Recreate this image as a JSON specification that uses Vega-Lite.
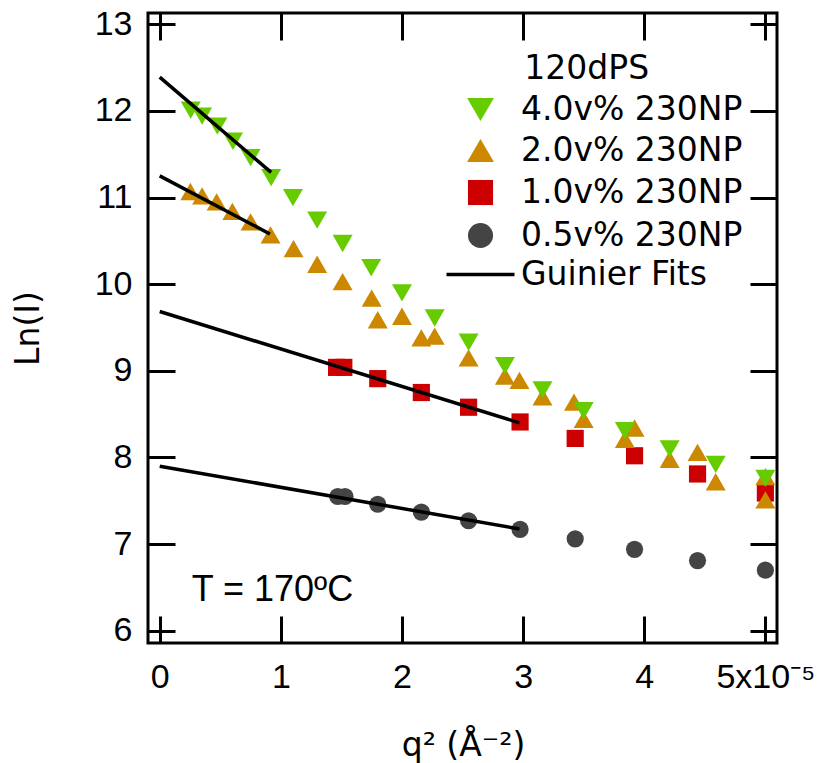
{
  "$schema": "https://vega.github.io/schema/vega-lite/v6.json",
  "width": 629,
  "height": 630,
  "autosize": {"type": "none"},
  "padding": {"left": 148, "top": 13, "right": 43, "bottom": 120},
  "background": "white",
  "config": {
    "view": {"stroke": "black", "strokeWidth": 3},
    "axis": {
      "grid": false, "domain": false, "ticks": true, "tickSize": -27, "tickWidth": 3, "tickColor": "black",
      "labelFont": "Liberation Sans", "labelFontSize": 34, "labelColor": "black",
      "titleFont": "DejaVu Sans", "titleFontSize": 33, "titleFontWeight": "normal", "titleColor": "black",
      "labelFlush": false, "labelOverlap": false, "labelBound": false
    },
    "legend": {
      "padding": 0, "labelFont": "DejaVu Sans", "labelFontSize": 33, "labelColor": "black",
      "rowPadding": 2, "symbolOffset": 0, "labelOffset": 24, "labelLimit": 0
    }
  },
  "datasets": {
    "pts": [
      {"series": "0.5v% 230NP", "q2": 1.47, "lnI": 7.55},
      {"series": "0.5v% 230NP", "q2": 1.53, "lnI": 7.55},
      {"series": "0.5v% 230NP", "q2": 1.80, "lnI": 7.46},
      {"series": "0.5v% 230NP", "q2": 2.16, "lnI": 7.37},
      {"series": "0.5v% 230NP", "q2": 2.55, "lnI": 7.27},
      {"series": "0.5v% 230NP", "q2": 2.975, "lnI": 7.17},
      {"series": "0.5v% 230NP", "q2": 3.43, "lnI": 7.06},
      {"series": "0.5v% 230NP", "q2": 3.92, "lnI": 6.94},
      {"series": "0.5v% 230NP", "q2": 4.44, "lnI": 6.81},
      {"series": "0.5v% 230NP", "q2": 5.0, "lnI": 6.70},
      {"series": "1.0v% 230NP", "q2": 1.46, "lnI": 9.04},
      {"series": "1.0v% 230NP", "q2": 1.52, "lnI": 9.04},
      {"series": "1.0v% 230NP", "q2": 1.80, "lnI": 8.91},
      {"series": "1.0v% 230NP", "q2": 2.16, "lnI": 8.75},
      {"series": "1.0v% 230NP", "q2": 2.55, "lnI": 8.58},
      {"series": "1.0v% 230NP", "q2": 2.975, "lnI": 8.41},
      {"series": "1.0v% 230NP", "q2": 3.43, "lnI": 8.22},
      {"series": "1.0v% 230NP", "q2": 3.92, "lnI": 8.02},
      {"series": "1.0v% 230NP", "q2": 4.44, "lnI": 7.81},
      {"series": "1.0v% 230NP", "q2": 5.0, "lnI": 7.59},
      {"series": "2.0v% 230NP", "q2": 0.253, "lnI": 11.07},
      {"series": "2.0v% 230NP", "q2": 0.35, "lnI": 11.02},
      {"series": "2.0v% 230NP", "q2": 0.47, "lnI": 10.95},
      {"series": "2.0v% 230NP", "q2": 0.60, "lnI": 10.84},
      {"series": "2.0v% 230NP", "q2": 0.75, "lnI": 10.72},
      {"series": "2.0v% 230NP", "q2": 0.915, "lnI": 10.57},
      {"series": "2.0v% 230NP", "q2": 1.105, "lnI": 10.41},
      {"series": "2.0v% 230NP", "q2": 1.30, "lnI": 10.23},
      {"series": "2.0v% 230NP", "q2": 1.51, "lnI": 10.03},
      {"series": "2.0v% 230NP", "q2": 1.75, "lnI": 9.84},
      {"series": "2.0v% 230NP", "q2": 1.80, "lnI": 9.59},
      {"series": "2.0v% 230NP", "q2": 2.0, "lnI": 9.63},
      {"series": "2.0v% 230NP", "q2": 2.16, "lnI": 9.38},
      {"series": "2.0v% 230NP", "q2": 2.27, "lnI": 9.40},
      {"series": "2.0v% 230NP", "q2": 2.55, "lnI": 9.15},
      {"series": "2.0v% 230NP", "q2": 2.85, "lnI": 8.94},
      {"series": "2.0v% 230NP", "q2": 2.97, "lnI": 8.89},
      {"series": "2.0v% 230NP", "q2": 3.16, "lnI": 8.70},
      {"series": "2.0v% 230NP", "q2": 3.42, "lnI": 8.64},
      {"series": "2.0v% 230NP", "q2": 3.50, "lnI": 8.44},
      {"series": "2.0v% 230NP", "q2": 3.84, "lnI": 8.21},
      {"series": "2.0v% 230NP", "q2": 3.92, "lnI": 8.34},
      {"series": "2.0v% 230NP", "q2": 4.21, "lnI": 7.98},
      {"series": "2.0v% 230NP", "q2": 4.44, "lnI": 8.06},
      {"series": "2.0v% 230NP", "q2": 4.59, "lnI": 7.72},
      {"series": "2.0v% 230NP", "q2": 5.0, "lnI": 7.78},
      {"series": "2.0v% 230NP", "q2": 5.0, "lnI": 7.51},
      {"series": "4.0v% 230NP", "q2": 0.256, "lnI": 12.01},
      {"series": "4.0v% 230NP", "q2": 0.35, "lnI": 11.94},
      {"series": "4.0v% 230NP", "q2": 0.476, "lnI": 11.825},
      {"series": "4.0v% 230NP", "q2": 0.605, "lnI": 11.65},
      {"series": "4.0v% 230NP", "q2": 0.75, "lnI": 11.46},
      {"series": "4.0v% 230NP", "q2": 0.92, "lnI": 11.23},
      {"series": "4.0v% 230NP", "q2": 1.10, "lnI": 11.0},
      {"series": "4.0v% 230NP", "q2": 1.30, "lnI": 10.74},
      {"series": "4.0v% 230NP", "q2": 1.51, "lnI": 10.47},
      {"series": "4.0v% 230NP", "q2": 1.746, "lnI": 10.19},
      {"series": "4.0v% 230NP", "q2": 2.0, "lnI": 9.90},
      {"series": "4.0v% 230NP", "q2": 2.27, "lnI": 9.61},
      {"series": "4.0v% 230NP", "q2": 2.55, "lnI": 9.33},
      {"series": "4.0v% 230NP", "q2": 2.85, "lnI": 9.06},
      {"series": "4.0v% 230NP", "q2": 3.16, "lnI": 8.78},
      {"series": "4.0v% 230NP", "q2": 3.50, "lnI": 8.54},
      {"series": "4.0v% 230NP", "q2": 3.84, "lnI": 8.31},
      {"series": "4.0v% 230NP", "q2": 4.21, "lnI": 8.10},
      {"series": "4.0v% 230NP", "q2": 4.59, "lnI": 7.92},
      {"series": "4.0v% 230NP", "q2": 5.0, "lnI": 7.76}
    ],
    "fits": [
      {"fit": "4.0", "q2": 0.0, "lnI": 12.39},
      {"fit": "4.0", "q2": 0.92, "lnI": 11.29},
      {"fit": "2.0", "q2": 0.0, "lnI": 11.25},
      {"fit": "2.0", "q2": 0.91, "lnI": 10.58},
      {"fit": "1.0", "q2": 0.0, "lnI": 9.685},
      {"fit": "1.0", "q2": 2.97, "lnI": 8.40},
      {"fit": "0.5", "q2": 0.0, "lnI": 7.90},
      {"fit": "0.5", "q2": 2.97, "lnI": 7.175}
    ],
    "note": [{"label": "T = 170ºC", "q2": 0.264, "lnI": 6.474}],
    "header": [{"label": "120dPS", "q2": 3.01, "lnI": 12.48}]
  },
  "resolve": {"axis": {"x": "independent", "y": "independent"}},
  "layer": [
    {
      "data": {"name": "pts"},
      "mark": {"type": "point", "filled": true, "opacity": 1, "strokeWidth": 0},
      "encoding": {
        "x": {
          "field": "q2", "type": "quantitative",
          "scale": {"domain": [-0.0966, 5.096], "nice": false, "zero": false},
          "axis": {
            "orient": "bottom", "values": [0, 1, 2, 3, 4, 5], "labelPadding": 44,
            "labelExpr": "datum.value === 5 ? '5x10⁻⁵' : datum.label",
            "title": "q² (Å⁻²)", "titleX": 315, "titleY": 102, "titleBaseline": "middle", "titleAnchor": "middle"
          }
        },
        "y": {
          "field": "lnI", "type": "quantitative",
          "scale": {"domain": [5.859, 13.13], "nice": false, "zero": false},
          "axis": {
            "orient": "left", "values": [6, 7, 8, 9, 10, 11, 12, 13], "labelPadding": 43,
            "title": "Ln(I)", "titleX": -120, "titleY": 315, "titleBaseline": "middle", "titleAnchor": "middle", "titleAngle": -90
          }
        },
        "color": {
          "field": "series", "type": "nominal",
          "scale": {
            "domain": ["4.0v% 230NP", "2.0v% 230NP", "1.0v% 230NP", "0.5v% 230NP", "Guinier Fits"],
            "range": ["#66CC00", "#CC8800", "#CC0000", "#444444", "#000000"]
          },
          "legend": {
            "title": null, "orient": "none", "legendX": 316, "legendY": 80,
            "symbolSize": {"expr": "datum.value === 'Guinier Fits' ? 4624 : (datum.value === '4.0v% 230NP' || datum.value === '2.0v% 230NP' ? 720 : 630)"},
            "symbolStrokeColor": {"expr": "datum.value === 'Guinier Fits' ? 'black' : 'transparent'"},
            "symbolStrokeWidth": 3.5
          }
        },
        "shape": {
          "field": "series", "type": "nominal",
          "scale": {
            "domain": ["4.0v% 230NP", "2.0v% 230NP", "1.0v% 230NP", "0.5v% 230NP", "Guinier Fits"],
            "range": ["triangle-down", "triangle-up", "square", "circle", "stroke"]
          },
          "legend": {
            "title": null, "orient": "none", "legendX": 316, "legendY": 80,
            "symbolSize": {"expr": "datum.value === 'Guinier Fits' ? 4624 : (datum.value === '4.0v% 230NP' || datum.value === '2.0v% 230NP' ? 720 : 630)"},
            "symbolStrokeColor": {"expr": "datum.value === 'Guinier Fits' ? 'black' : 'transparent'"},
            "symbolStrokeWidth": 3.5
          }
        },
        "size": {
          "condition": {"test": "datum.series === '4.0v% 230NP' || datum.series === '2.0v% 230NP'", "value": 400},
          "value": 295
        }
      }
    },
    {
      "data": {"name": "fits"},
      "mark": {"type": "line", "color": "black", "strokeWidth": 3.5},
      "encoding": {
        "x": {
          "field": "q2", "type": "quantitative",
          "scale": {"domain": [-0.0966, 5.096], "nice": false, "zero": false},
          "axis": {"orient": "top", "values": [0, 1, 2, 3, 4, 5], "labels": false, "title": null}
        },
        "y": {
          "field": "lnI", "type": "quantitative",
          "scale": {"domain": [5.859, 13.13], "nice": false, "zero": false},
          "axis": {"orient": "right", "values": [6, 7, 8, 9, 10, 11, 12, 13], "labels": false, "title": null}
        },
        "detail": {"field": "fit", "type": "nominal"}
      }
    },
    {
      "data": {"name": "note"},
      "mark": {"type": "text", "align": "left", "baseline": "middle", "font": "Liberation Sans", "fontSize": 36, "color": "black"},
      "encoding": {
        "x": {"field": "q2", "type": "quantitative", "axis": null},
        "y": {"field": "lnI", "type": "quantitative", "axis": null},
        "text": {"field": "label", "type": "nominal"}
      }
    },
    {
      "data": {"name": "header"},
      "mark": {"type": "text", "align": "left", "baseline": "middle", "font": "DejaVu Sans", "fontSize": 33, "color": "black"},
      "encoding": {
        "x": {"field": "q2", "type": "quantitative", "axis": null},
        "y": {"field": "lnI", "type": "quantitative", "axis": null},
        "text": {"field": "label", "type": "nominal"}
      }
    }
  ]
}
